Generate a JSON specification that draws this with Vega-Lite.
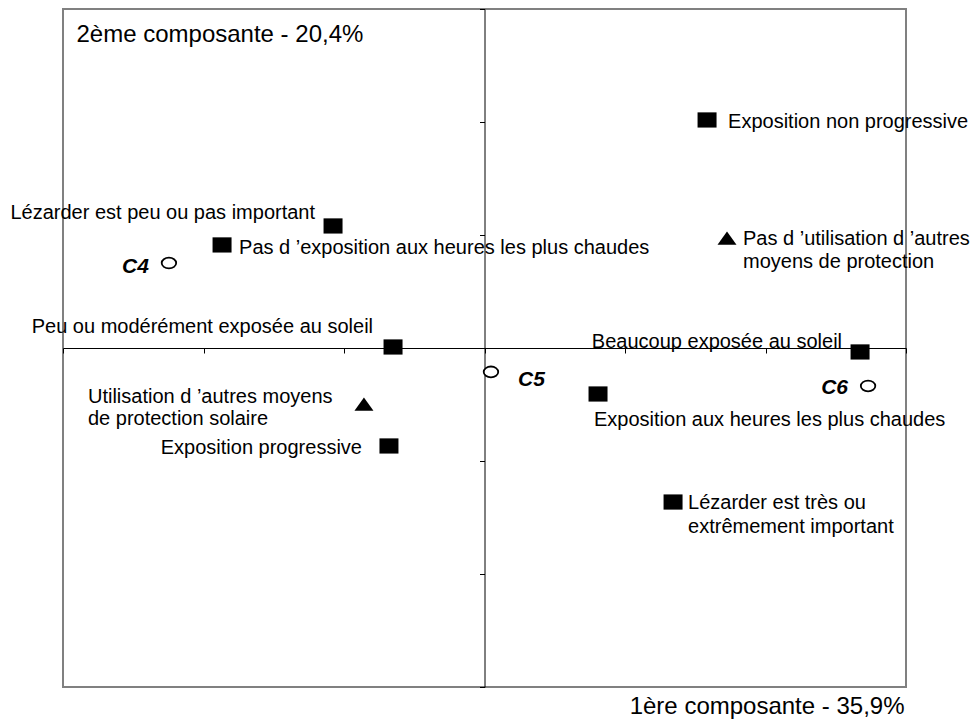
{
  "$schema": "https://vega.github.io/schema/vega-lite/v6.json",
  "width": 843,
  "height": 678,
  "autosize": "none",
  "padding": {"left": 63, "top": 9, "right": 67, "bottom": 36},
  "background": "white",
  "config": {
    "view": {"stroke": "#808080", "strokeWidth": 2},
    "text": {"font": "Liberation Sans", "fontSize": 20, "color": "black"}
  },
  "data": {
    "values": [
      {"id": "enp", "kind": "square", "label": "Exposition non progressive", "x": 1.584, "y": 2.018},
      {"id": "lpeu", "kind": "square", "label": "Lézarder est peu ou pas important", "x": -1.078, "y": 1.080},
      {"id": "pexp", "kind": "square", "label": "Pas d ’exposition aux heures les plus chaudes", "x": -1.868, "y": 0.912},
      {"id": "c4", "kind": "circle", "label": "C4", "x": -2.246, "y": 0.752},
      {"id": "putil", "kind": "triangle", "label": "Pas d ’utilisation d ’autres\nmoyens de protection", "x": 1.726, "y": 0.973},
      {"id": "peu", "kind": "square", "label": "Peu ou modérément exposée au soleil", "x": -0.651, "y": 0.009},
      {"id": "beau", "kind": "square", "label": "Beaucoup exposée au soleil", "x": 2.673, "y": -0.035},
      {"id": "c5", "kind": "circle", "label": "C5", "x": 0.046, "y": -0.212},
      {"id": "c6", "kind": "circle", "label": "C6", "x": 2.730, "y": -0.336},
      {"id": "eah", "kind": "square", "label": "Exposition aux heures les plus chaudes", "x": 0.808, "y": -0.407},
      {"id": "util", "kind": "triangle", "label": "Utilisation d ’autres moyens\nde protection solaire", "x": -0.858, "y": -0.496},
      {"id": "ep", "kind": "square", "label": "Exposition progressive", "x": -0.680, "y": -0.867},
      {"id": "ltres", "kind": "square", "label": "Lézarder est très ou\nextrêmement important", "x": 1.342, "y": -1.363}
    ]
  },
  "encoding": {
    "x": {
      "field": "x", "type": "quantitative",
      "scale": {"domain": [-3, 3], "nice": false, "zero": false},
      "axis": {"orient": "bottom", "offset": -339, "values": [-3, -2, -1, 0, 1, 2, 3], "labels": false, "grid": false, "title": "1ère composante - 35,9%", "titleFont": "Liberation Sans", "titleFontSize": 24, "titleFontWeight": "normal", "titleColor": "black", "titleAlign": "right", "titleBaseline": "alphabetic", "titleX": 841, "titleY": 365, "domainColor": "black", "domainWidth": 1, "tickColor": "black", "tickWidth": 1, "tickSize": 5}
    },
    "y": {
      "field": "y", "type": "quantitative",
      "scale": {"domain": [-3, 3], "nice": false, "zero": false},
      "axis": {"orient": "left", "offset": -421.5, "values": [-3, -2, -1, 0, 1, 2, 3], "labels": false, "grid": false, "title": "2ème composante - 20,4%", "titleFont": "Liberation Sans", "titleFontSize": 24, "titleFontWeight": "normal", "titleColor": "black", "titleAngle": 0, "titleAlign": "left", "titleBaseline": "alphabetic", "titleX": -408.5, "titleY": 32, "domainColor": "black", "domainWidth": 1, "tickColor": "black", "tickWidth": 1, "tickSize": 5}
    }
  },
  "layer": [
    {"transform": [{"filter": "datum.kind === 'square'"}], "mark": {"type": "point", "shape": "M-1,-0.8H1V0.8H-1Z", "size": 361, "filled": true, "fill": "black", "strokeWidth": 0, "opacity": 1}},
    {"transform": [{"filter": "datum.kind === 'triangle'"}], "mark": {"type": "point", "shape": "M0,-0.7L1,0.7H-1Z", "size": 361, "filled": true, "fill": "black", "strokeWidth": 0, "opacity": 1}},
    {"transform": [{"filter": "datum.kind === 'circle'"}], "mark": {"type": "point", "shape": "M-1,0A1,0.75,0,1,1,1,0A1,0.75,0,1,1,-1,0Z", "size": 210, "filled": false, "fill": "white", "stroke": "black", "strokeWidth": 1.8, "opacity": 1}},
    {"transform": [{"filter": "datum.id === 'enp'"}], "mark": {"type": "text", "align": "left", "baseline": "alphabetic", "dx": 21, "dy": 8}, "encoding": {"text": {"field": "label"}}},
    {"transform": [{"filter": "datum.id === 'lpeu'"}], "mark": {"type": "text", "align": "right", "baseline": "alphabetic", "dx": -18, "dy": -7}, "encoding": {"text": {"field": "label"}}},
    {"transform": [{"filter": "datum.id === 'pexp'"}], "mark": {"type": "text", "align": "left", "baseline": "alphabetic", "dx": 17, "dy": 9}, "encoding": {"text": {"field": "label"}}},
    {"transform": [{"filter": "datum.id === 'c4'"}], "mark": {"type": "text", "align": "right", "baseline": "alphabetic", "dx": -20, "dy": 10, "fontWeight": "bold", "fontStyle": "italic", "fontSize": 21}, "encoding": {"text": {"field": "label"}}},
    {"transform": [{"filter": "datum.id === 'putil'"}], "mark": {"type": "text", "align": "left", "baseline": "top", "lineBreak": "\n", "lineHeight": 23, "dx": 16, "dy": -9}, "encoding": {"text": {"field": "label"}}},
    {"transform": [{"filter": "datum.id === 'peu'"}], "mark": {"type": "text", "align": "right", "baseline": "alphabetic", "dx": -20, "dy": -14}, "encoding": {"text": {"field": "label"}}},
    {"transform": [{"filter": "datum.id === 'beau'"}], "mark": {"type": "text", "align": "right", "baseline": "alphabetic", "dx": -18, "dy": -4}, "encoding": {"text": {"field": "label"}}},
    {"transform": [{"filter": "datum.id === 'c5'"}], "mark": {"type": "text", "align": "left", "baseline": "alphabetic", "dx": 27, "dy": 14, "fontWeight": "bold", "fontStyle": "italic", "fontSize": 21}, "encoding": {"text": {"field": "label"}}},
    {"transform": [{"filter": "datum.id === 'c6'"}], "mark": {"type": "text", "align": "right", "baseline": "alphabetic", "dx": -20, "dy": 8, "fontWeight": "bold", "fontStyle": "italic", "fontSize": 21}, "encoding": {"text": {"field": "label"}}},
    {"transform": [{"filter": "datum.id === 'eah'"}], "mark": {"type": "text", "align": "left", "baseline": "alphabetic", "dx": -4, "dy": 32}, "encoding": {"text": {"field": "label"}}},
    {"transform": [{"filter": "datum.id === 'util'"}], "mark": {"type": "text", "align": "left", "baseline": "top", "lineBreak": "\n", "lineHeight": 22, "dx": -276, "dy": -17}, "encoding": {"text": {"field": "label"}}},
    {"transform": [{"filter": "datum.id === 'ep'"}], "mark": {"type": "text", "align": "right", "baseline": "alphabetic", "dx": -27, "dy": 8}, "encoding": {"text": {"field": "label"}}},
    {"transform": [{"filter": "datum.id === 'ltres'"}], "mark": {"type": "text", "align": "left", "baseline": "top", "lineBreak": "\n", "lineHeight": 24, "dx": 15, "dy": -9}, "encoding": {"text": {"field": "label"}}}
  ]
}
